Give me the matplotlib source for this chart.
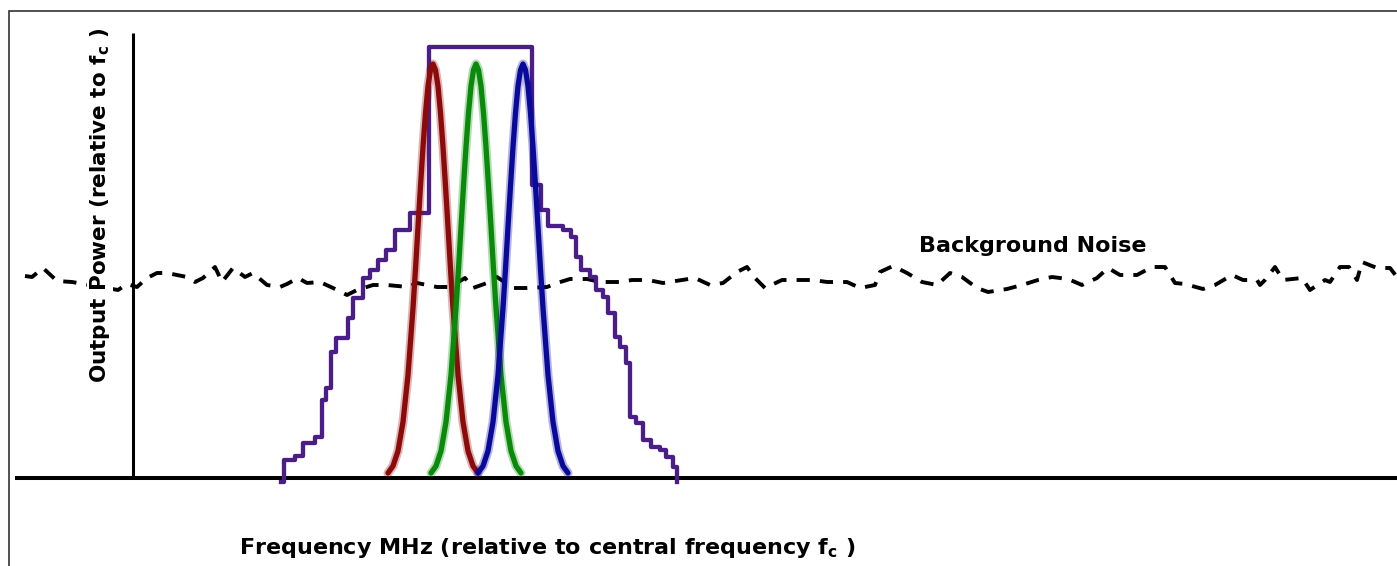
import matplotlib
matplotlib.use("Agg")
import matplotlib.pyplot as plt
from matplotlib.patches import Rectangle

# ---------------- data (arbitrary frequency / power units) ----------------
# shape of one channel band: frequency offset from its centre and power
band_offset = [-45, -40, -35, -30, -25, -20, -17.5, -15, -12.5, -10, -7.5, -5, -2.5, 0,
               2.5, 5, 7.5, 10, 12.5, 15, 17.5, 20, 25, 30, 35, 40, 45]
band_power = [5, 12, 27, 56, 103, 170, 209, 251, 292, 331, 365, 392, 408, 414,
              408, 392, 365, 331, 292, 251, 209, 170, 103, 56, 27, 12, 5]
band_centres = [300, 343, 390]
band_colors = ["#8c0a0a", "#0a8a0a", "#0a0a9a"]

# purple stepped envelope (step start frequency, level)
env_freq = [148, 151, 162, 170, 182, 189, 193, 198, 203, 215, 220, 230, 237, 245, 253, 262, 277,
            296, 399, 408, 415, 430, 438, 443, 448, 457, 463, 470, 475, 482, 487, 493, 497,
            503, 510, 518, 527, 533, 540, 544]
env_level = [-4, 18, 22, 35, 41, 78, 90, 126, 140, 160, 180, 200, 208, 218, 228, 248, 265,
             431, 293, 268, 252, 248, 241, 221, 208, 201, 188, 181, 165, 141, 131, 115, 61,
             55, 38, 31, 28, 21, 11, -4]

# background noise trace
noise_freq = [-108, -101, -90, -76, -61, -38, -15, -6, 4, 14, 24, 34, 44, 54, 62, 70, 82, 89,
              100, 112, 120, 134, 147, 154, 165, 174, 187, 200, 214, 224, 240, 254, 275, 284,
              304, 317, 332, 340, 354, 364, 380, 394, 414, 424, 437, 454, 467, 487, 499, 515,
              530, 549, 562, 577, 590, 604, 614, 622, 632, 649, 662, 680, 694, 714, 727, 742,
              747, 760, 774, 789, 804, 817, 829, 844, 855, 874, 889, 905, 919, 935, 949, 964,
              975, 987, 1004, 1019, 1032, 1042, 1052, 1070, 1082, 1099, 1110, 1124, 1127, 1132,
              1142, 1150, 1169, 1177, 1192, 1197, 1207, 1216, 1224, 1229, 1244, 1257, 1264]
noise_power = [202, 201, 210, 197, 196, 192, 188, 194, 191, 200, 205, 205, 203, 201, 196, 200,
               211, 196, 210, 201, 205, 193, 191, 194, 200, 195, 196, 190, 183, 188, 193, 193,
               191, 195, 191, 191, 200, 190, 195, 201, 190, 190, 191, 195, 199, 199, 196, 196,
               198, 198, 195, 198, 200, 193, 195, 206, 211, 200, 190, 198, 198, 198, 196, 196,
               190, 193, 206, 212, 205, 196, 193, 205, 201, 190, 186, 189, 193, 198, 201, 199,
               193, 200, 210, 203, 203, 211, 211, 195, 194, 189, 193, 203, 198, 198, 193, 198,
               211, 198, 200, 188, 198, 196, 211, 211, 198, 216, 210, 210, 201]

x_label = "Frequency MHz (relative to central frequency f$_c$ )"
y_label = "Output Power (relative to f$_c$ )"
noise_label = "Background Noise"

# ---------------- drawing ----------------
plt.rcParams["font.family"] = ["DejaVu Sans"]
plt.rcParams["mathtext.fontset"] = "custom"
plt.rcParams["mathtext.rm"] = "DejaVu Sans:bold"
plt.rcParams["mathtext.it"] = "DejaVu Sans:bold"

fig = plt.figure(figsize=(13.97, 5.66), dpi=100)
fig.patch.set_facecolor("white")
ax = fig.add_axes([0, 0, 1, 1])
ax.set_xlim(-133, 1264)
ax.set_ylim(-88, 478)
ax.axis("off")

# outer frame (left and top edges visible)
fig.patches.append(Rectangle((9 / 1397, -0.1), 1.2, 1 - 11 / 566 + 0.1,
                             transform=fig.transFigure, fill=False,
                             edgecolor="#333333", linewidth=1.2))

# axes lines
ax.plot([-118, 1264], [0, 0], color="black", lw=2.9, solid_capstyle="butt", zorder=1)
ax.plot([0, 0], [0, 445], color="black", lw=2.2, solid_capstyle="butt", zorder=1)

# noise
ax.plot(noise_freq, noise_power, color="black", lw=2.8, dashes=(3.4, 2.6),
        solid_joinstyle="round", zorder=2)

# envelope
ax.plot(env_freq, env_level, drawstyle="steps-post", color="#4b1e87", lw=3.1, zorder=3)

# channel bands
for c, col in zip(band_centres, band_colors):
    xs = [c + o for o in band_offset]
    ax.plot(xs, band_power, color=col, lw=6.5, alpha=0.3, solid_capstyle="round", zorder=4)
    ax.plot(xs, band_power, color=col, lw=3.8, solid_capstyle="round", zorder=4)

# texts
ax.text(-33, 273, y_label, rotation=90, ha="center", va="center",
        fontsize=15.5, fontweight="bold", zorder=5,
        bbox=dict(facecolor="white", edgecolor="none", pad=0.5))
ax.text(414, -70, x_label, ha="center", va="center", fontsize=16, fontweight="bold")
ax.text(900, 232, noise_label, ha="center", va="center", fontsize=16, fontweight="bold")

fig.savefig("out.png", dpi=100, facecolor="white")
